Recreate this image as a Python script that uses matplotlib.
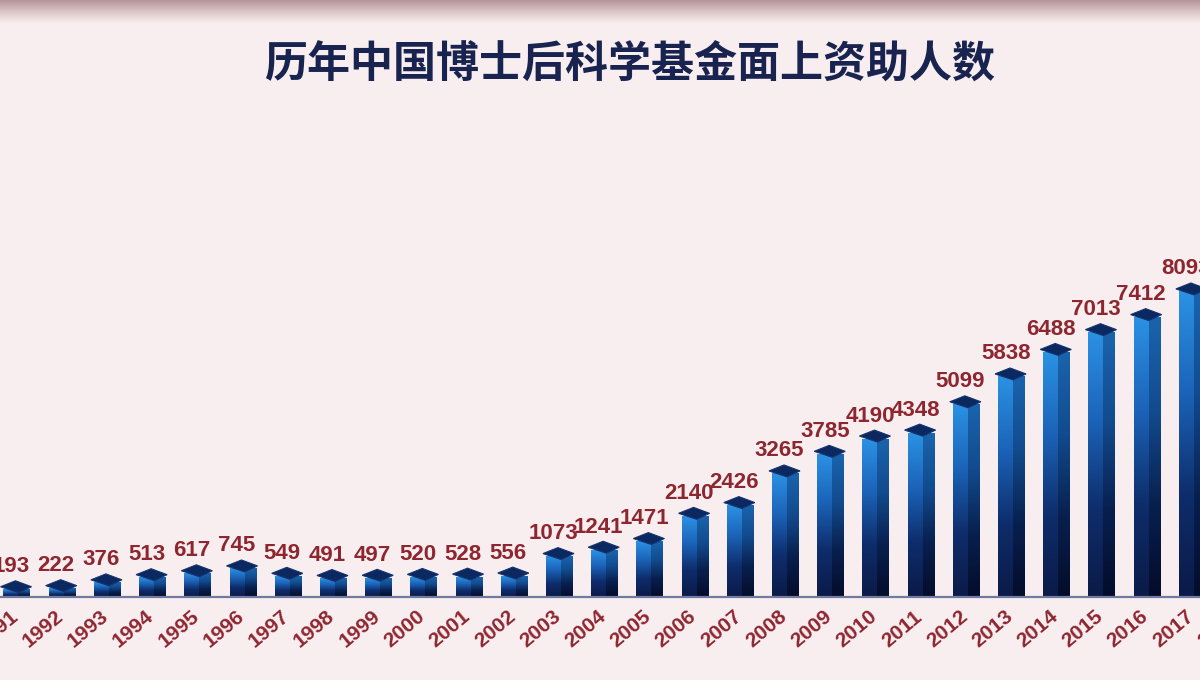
import numpy as np
import matplotlib.pyplot as plt
from matplotlib.colors import LinearSegmentedColormap
from matplotlib.patches import Polygon

plt.rcParams['font.family'] = ['Liberation Sans', 'DejaVu Sans']

years = [str(y) for y in range(1991, 2019)]
values = [193, 222, 376, 513, 617, 745, 549, 491, 497, 520, 528, 556, 1073,
          1241, 1471, 2140, 2426, 3265, 3785, 4190, 4348, 5099, 5838, 6488,
          7013, 7412, 8093]
title = '历年中国博士后科学基金面上资助人数'

bg_color = '#f8eeef'
label_color = '#8e2630'
title_color = '#18234f'

front_cmap = LinearSegmentedColormap.from_list(
    'front', ['#0b1a47', '#0e2d6c', '#1b63b8', '#2b92e4'])
side_cmap = LinearSegmentedColormap.from_list(
    'side', ['#040c2a', '#08204f', '#124b8e', '#1a64ad'])

fig = plt.figure(figsize=(12, 6.8), dpi=100)
fig.patch.set_facecolor(bg_color)

# background with darker band at the top
bg = fig.add_axes([0, 0, 1, 1])
bg.set_axis_off()
band = np.linspace(0, 1, 680).reshape(-1, 1)
band_cmap = LinearSegmentedColormap.from_list(
    'band', ['#b5979b', '#dcc6c8', bg_color, bg_color])
bg.imshow(np.clip(band * 680 / 34, 0, 1), cmap=band_cmap, aspect='auto',
          extent=[0, 1, 0, 1], origin='upper')
bg.set_xlim(0, 1)
bg.set_ylim(0, 1)

ax = fig.add_axes([0, 0, 1, 1])
ax.patch.set_alpha(0)
ax.set_axis_off()
ax.set_xlim(-0.365, 26.18)
ax.set_ylim(-2202, 15836)

grad = np.linspace(0, 1, 256).reshape(-1, 1)
for i, v in enumerate(values):
    c = i
    ax.imshow(grad, cmap=front_cmap, aspect='auto', origin='lower',
              extent=[c - 0.288, c + 0.044, 0, v], zorder=2)
    ax.imshow(grad, cmap=side_cmap, aspect='auto', origin='lower',
              extent=[c + 0.044, c + 0.288, 0, v], zorder=2)
    cap = Polygon([(c - 0.354, v + 79), (c - 0.022, v + 237),
                   (c + 0.332, v + 79), (c + 0.044, v - 79)],
                  closed=True, facecolor='#0c2860', edgecolor='#14336e',
                  lw=0.8, zorder=3)
    ax.add_patch(cap)
    ax.annotate(str(v), xy=(c - 0.12, v), xytext=(0, 16.5),
                textcoords='offset points', ha='center', va='center',
                fontsize=16, fontweight='bold', color=label_color,
                zorder=4)

ax.axhline(0, color='#6f7ba0', lw=1.6, zorder=3)

for i, yr in enumerate(years):
    ax.annotate(yr, xy=(i, 0), xytext=(-5, -7), textcoords='offset points',
                ha='right', va='top', rotation=40, rotation_mode='anchor',
                fontsize=15, fontweight='bold', color=label_color,
                annotation_clip=False)

fig.text(0.525, 0.905, title, ha='center', va='center', fontsize=31,
         fontweight='heavy', color=title_color,
         family=['Noto Sans CJK SC', 'DejaVu Sans'])

fig.savefig('out.png', dpi=100, facecolor=fig.get_facecolor())
